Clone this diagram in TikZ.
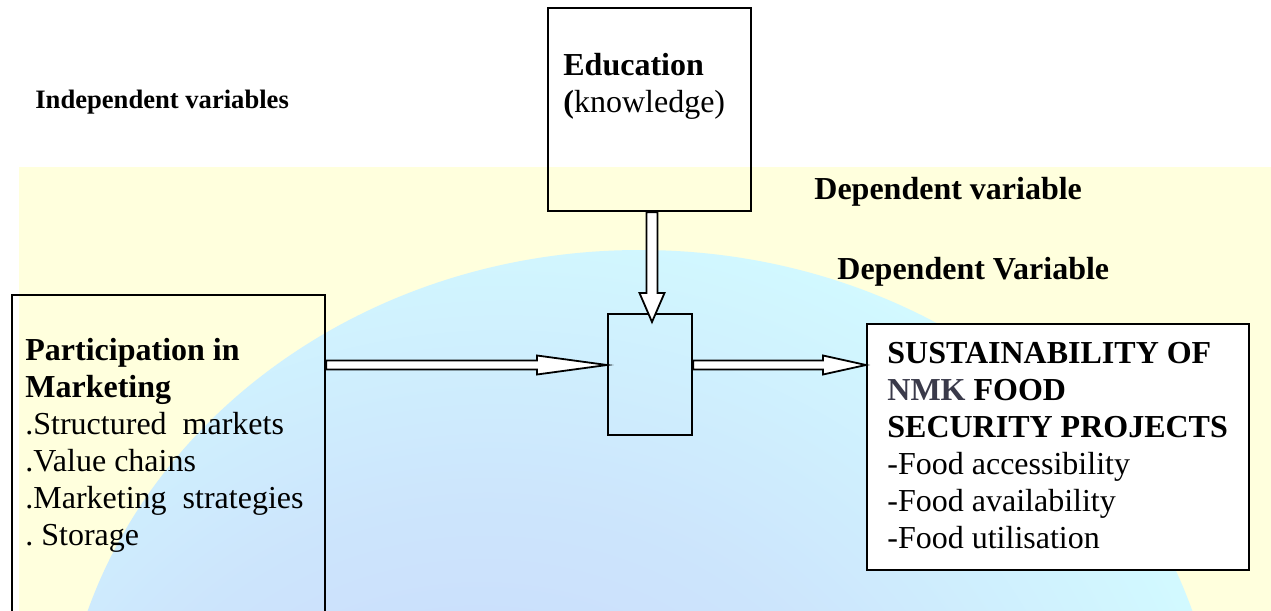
\documentclass[tikz,border=0pt]{standalone}
\usepackage{fontspec}
\setmainfont{Liberation Serif}
\usetikzlibrary{calc,positioning}

\definecolor{bgyellow}{RGB}{255,255,221}
\definecolor{globecyan}{RGB}{210,250,255}
\definecolor{globeblue}{RGB}{200,212,250}
\definecolor{nmkgray}{RGB}{58,58,74}

\pgfdeclareradialshading{globe}{\pgfpoint{-8bp}{-6bp}}{color(0bp)=(globeblue); color(18bp)=(globeblue!55!globecyan); color(32bp)=(globecyan); color(41bp)=(globecyan!45!white); color(47bp)=(white!40!bgyellow); color(50bp)=(bgyellow); color(100bp)=(bgyellow)}

\tikzstyle{varbox}=[draw, line width=1.1pt, rectangle, inner sep=0pt, anchor=north west]
\tikzstyle{boxtext}=[anchor=north west, inner sep=0pt, align=left, font=\fontsize{16}{18.5}\selectfont]
\tikzstyle{heading}=[anchor=base west, inner sep=0pt, font=\fontsize{16}{18.5}\selectfont\bfseries]
\tikzset{blockarrow/.style n args={3}{draw=black, fill=white, line width=0.9pt,
    to path={($(\tikztostart)!#1!90:(\tikztotarget)$)
      -- ($(\tikztotarget)!#3!(\tikztostart)!#1!90:(\tikztotarget)$)
      -- ($(\tikztotarget)!#3!(\tikztostart)!#2!90:(\tikztotarget)$)
      -- (\tikztotarget)
      -- ($(\tikztotarget)!#3!(\tikztostart)!#2!-90:(\tikztotarget)$)
      -- ($(\tikztotarget)!#3!(\tikztostart)!#1!-90:(\tikztotarget)$)
      -- ($(\tikztostart)!#1!-90:(\tikztotarget)$) -- cycle}}}

\begin{document}
\begin{tikzpicture}[x=0.5pt, y=-0.5pt]
    \useasboundingbox (0,0) rectangle (1271,611);
    % globe picture behind the model
    \fill[bgyellow] (19,167) rectangle (1271,611);
    \begin{scope}
        \clip (19,167) rectangle (1271,611);
        \shade[shading=globe] (640,770) ellipse [x radius=580, y radius=520];
    \end{scope}

    \node[heading, font=\fontsize{13.3}{15}\selectfont\bfseries] (indep) at (35,108) {Independent variables};
    \foreach \pos/\name/\txt in {{(814,199)/dep/Dependent variable}, {(837,279)/depv/Dependent Variable}}
        \node[heading] (\name) at \pos {\txt};

    \node[varbox, minimum width=101.5pt, minimum height=101.5pt] (edu) at (547,7) {};
    \node[varbox, minimum width=156.5pt, minimum height=170pt] (part) at (11,294) {};
    \node[varbox, minimum width=42pt, minimum height=60.5pt] (mid) at (607,313) {};
    \node[varbox, fill=white, minimum width=191pt, minimum height=123pt] (sust) at (866,323) {};

    \node[boxtext] (edutext) at (563,53) {\textbf{Education}\\\textbf{(}knowledge)};
    \node[boxtext] (parttext) at (25,338) {\textbf{Participation in}\\\textbf{Marketing}\\.Structured\ \ markets\\.Value chains\\.Marketing\ \ strategies\\.\ Storage};
    \node[boxtext] (susttext) at (887,342) {\textbf{SUSTAINABILITY OF}\\\textbf{{\color{nmkgray}NMK} FOOD}\\\textbf{SECURITY PROJECTS}\\-Food accessibility\\-Food availability\\-Food utilisation};

    \coordinate (row) at (0,365);
    \coordinate (downtop) at (edu.south -| 652,0);
    \coordinate (downtip) at (mid.north -| 652,0);
    \coordinate (downend) at ($(downtip)+(0,9)$);
    \coordinate (a1) at (part.east |- row);
    \coordinate (b1) at (mid.west |- row);
    \coordinate (a2) at (mid.east |- row);
    \coordinate (b2) at (sust.west |- row);

    \draw[blockarrow={2.75pt}{6.25pt}{14.5pt}] (downtop) to (downend);
    \draw[blockarrow={2.25pt}{4.75pt}{35pt}] (a1) to (b1);
    \draw[blockarrow={2.25pt}{4.75pt}{21.5pt}] (a2) to (b2);
\end{tikzpicture}
\end{document}
